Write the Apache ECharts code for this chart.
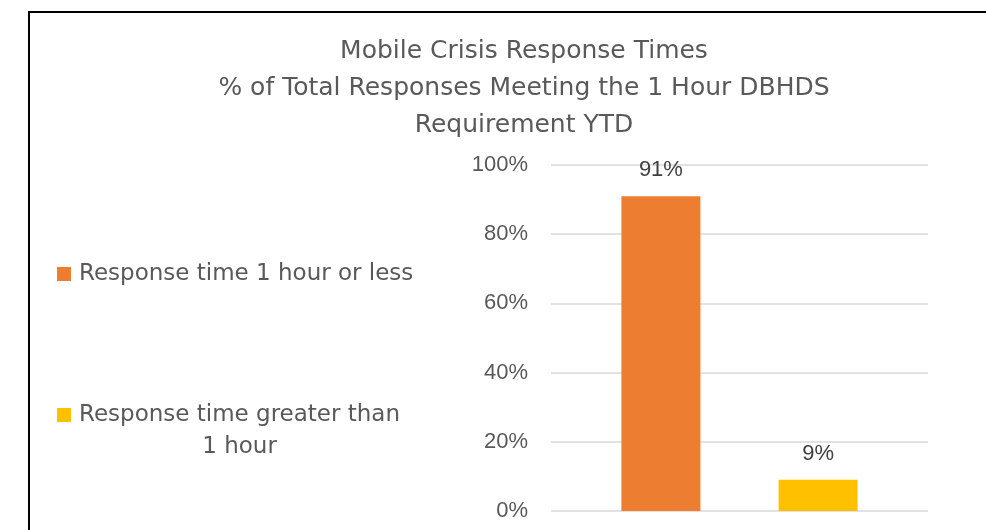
<!DOCTYPE html>
<html>
<head>
<meta charset="utf-8">
<script src="https://cdn.jsdelivr.net/npm/echarts@6/dist/echarts.min.js"></script>
<style>html,body{margin:0;padding:0;background:#fff;}#c{width:986px;height:530px;}</style>
</head>
<body>
<div id="c"></div>
<script>
var titleLines = ['Mobile Crisis Response Times', '% of Total Responses Meeting the 1 Hour DBHDS', 'Requirement YTD'];
var categories = ['YTD'];
var seriesNames = ['Response time 1 hour or less', 'Response time greater than 1 hour'];
var seriesValues = [[0.91], [0.09]];
var seriesColors = ['#ED7D31', '#FFC000'];
var yTicks = [0, 0.2, 0.4, 0.6, 0.8, 1.0];

var FONT = '"DejaVu Sans", sans-serif';
var NUMFONT = '"Liberation Sans", Arial, sans-serif';
var chart = echarts.init(document.getElementById('c'));
chart.setOption({
  backgroundColor: '#fff',
  animation: false,
  title: {
    text: titleLines.join('\n'),
    left: 519, top: 28, textAlign: 'center',
    textStyle: { fontFamily: FONT, fontSize: 25, fontWeight: 'normal', color: '#595959', lineHeight: 37 }
  },
  graphic: [{
    type: 'rect', silent: true, z: 100,
    shape: { x: 29, y: 12, width: 1100, height: 700 },
    style: { fill: 'none', stroke: '#000', lineWidth: 2 }
  }],
  legend: [{
    data: [seriesNames[0]], orient: 'vertical', left: 57, top: 258,
    icon: 'rect', itemWidth: 14, itemHeight: 14, padding: 0,
    textStyle: { fontFamily: FONT, fontSize: 23, color: '#595959', lineHeight: 32, padding: [0, 0, 0, 3] }
  }, {
    data: [seriesNames[1]], orient: 'vertical', left: 57, top: 367,
    icon: 'rect', itemWidth: 14, itemHeight: 14, padding: 0,
    formatter: function (n) { return '{a|Response time greater than}\n{b|1 hour}'; },
    textStyle: {
      fontFamily: FONT, fontSize: 23, color: '#595959', lineHeight: 32, padding: [32, 0, 0, 3],
      rich: {
        a: { fontFamily: FONT, fontSize: 23, color: '#595959', lineHeight: 32, align: 'center' },
        b: { fontFamily: FONT, fontSize: 23, color: '#595959', lineHeight: 32, align: 'center' }
      }
    }
  }],
  grid: { left: 551, right: 58, top: 165, bottom: 19 },
  xAxis: {
    type: 'category', data: categories,
    axisLine: { show: false }, axisTick: { show: false }, axisLabel: { show: false }
  },
  yAxis: {
    type: 'value', min: yTicks[0], max: yTicks[yTicks.length - 1], interval: 0.2,
    axisLine: { show: false }, axisTick: { show: false },
    splitLine: { lineStyle: { color: '#D9D9D9', width: 1.5 } },
    axisLabel: {
      margin: 23, fontFamily: NUMFONT, fontSize: 22, color: '#595959',
      formatter: function (v) { return Math.round(v * 100) + '%'; }
    }
  },
  series: seriesNames.map(function (name, i) {
    return {
      name: name, type: 'bar', data: seriesValues[i],
      barWidth: 79, barGap: '99%',
      itemStyle: { color: seriesColors[i] },
      label: {
        show: true, position: 'top', distance: 15,
        fontFamily: NUMFONT, fontSize: 22, color: '#404040',
        formatter: function (p) { return Math.round(p.value * 100) + '%'; }
      }
    };
  })
});
</script>
</body>
</html>
